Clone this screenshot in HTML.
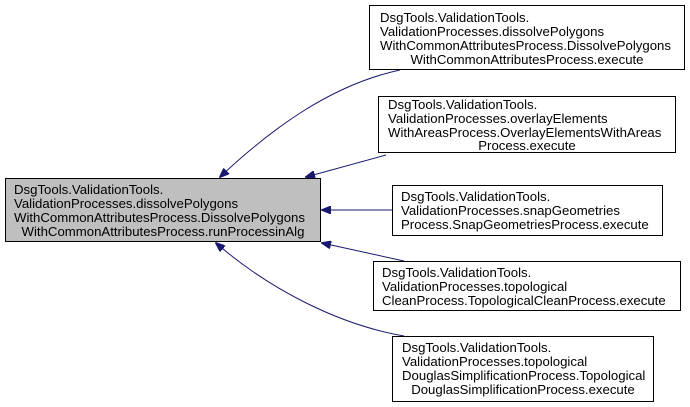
<!DOCTYPE html>
<html><head><meta charset="utf-8"><style>
html,body{margin:0;padding:0;background:#fff;}
svg{display:block;}
text{font-family:"Liberation Sans",Helvetica,sans-serif;font-size:13.2px;fill:#000;}
</style></head><body>
<svg width="690" height="407" viewBox="0 0 690 407" xmlns="http://www.w3.org/2000/svg">
<defs>
<marker id="a" markerWidth="10" markerHeight="8" refX="1" refY="4" orient="auto" markerUnits="userSpaceOnUse">
<path d="M10,0 L0,4 L10,8 Z" fill="#191970" stroke="#191970"/>
</marker>
</defs>
<g fill="none" stroke="#191970" stroke-width="1">
<path d="M220,177 C270,130 330,85 400,70" marker-start="url(#a)"/>
<path d="M306,177 L386,155" marker-start="url(#a)"/>
<path d="M322,210 L392,210" marker-start="url(#a)"/>
<path d="M322,243 L404,261" marker-start="url(#a)"/>
<path d="M216,243 C270,290 340,325 404,336" marker-start="url(#a)"/>
</g>
<rect x="5.5" y="178.5" width="315" height="63" fill="#bfbfbf" stroke="#000"/>
<text x="14" y="194">DsgTools.ValidationTools.</text>
<text x="14" y="208">ValidationProcesses.dissolvePolygons</text>
<text x="14" y="222">WithCommonAttributesProcess.DissolvePolygons</text>
<text x="163" y="236" text-anchor="middle">WithCommonAttributesProcess.runProcessinAlg</text>

<rect x="369.5" y="5.5" width="315" height="64" fill="#fff" stroke="#000"/>
<text x="380" y="22">DsgTools.ValidationTools.</text>
<text x="380" y="36">ValidationProcesses.dissolvePolygons</text>
<text x="380" y="50">WithCommonAttributesProcess.DissolvePolygons</text>
<text x="527" y="64" text-anchor="middle">WithCommonAttributesProcess.execute</text>

<rect x="378.5" y="96.5" width="297" height="56" fill="#fff" stroke="#000"/>
<text x="388" y="109">DsgTools.ValidationTools.</text>
<text x="388" y="123">ValidationProcesses.overlayElements</text>
<text x="388" y="137">WithAreasProcess.OverlayElementsWithAreas</text>
<text x="527" y="150" text-anchor="middle">Process.execute</text>

<rect x="392.5" y="185.5" width="270" height="50" fill="#fff" stroke="#000"/>
<text x="401" y="201">DsgTools.ValidationTools.</text>
<text x="401" y="215">ValidationProcesses.snapGeometries</text>
<text x="401" y="229">Process.SnapGeometriesProcess.execute</text>

<rect x="373.5" y="261.5" width="307" height="49" fill="#fff" stroke="#000"/>
<text x="382" y="277">DsgTools.ValidationTools.</text>
<text x="382" y="291">ValidationProcesses.topological</text>
<text x="382" y="305">CleanProcess.TopologicalCleanProcess.execute</text>

<rect x="392.5" y="336.5" width="261" height="65" fill="#fff" stroke="#000"/>
<text x="402" y="352">DsgTools.ValidationTools.</text>
<text x="402" y="366">ValidationProcesses.topological</text>
<text x="402" y="380">DouglasSimplificationProcess.Topological</text>
<text x="523" y="394" text-anchor="middle">DouglasSimplificationProcess.execute</text>
</svg>
</body></html>
